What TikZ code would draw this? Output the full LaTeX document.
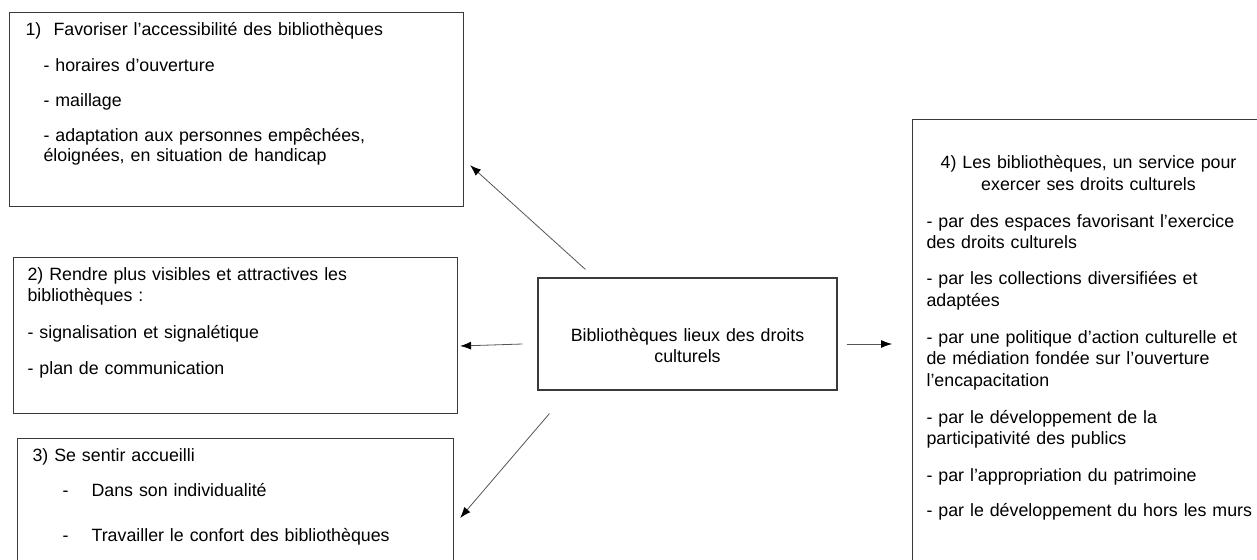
\documentclass[tikz,border=0pt]{standalone}
\usepackage{fontspec}
\setmainfont{Liberation Sans}
\usepackage{tikz}
\usetikzlibrary{arrows.meta,positioning}
\definecolor{FrameGray}{RGB}{58, 58, 58}
\definecolor{ArrowGray}{RGB}{85, 85, 85}

\newcommand{\padtop}[1]{\rule{0pt}{#1}}
\newcommand{\padbottom}[1]{\rule[-#1]{0pt}{#1}}

\begin{document}
\begin{tikzpicture}[x=1pt, y=-1pt,
    panel/.style={draw=FrameGray, line width=1.1pt, anchor=north west, align=left,
      inner xsep=14pt, inner ysep=10pt, font=\fontsize{17.8}{21}\selectfont},
    hubbox/.style={draw=FrameGray, line width=1.1pt, align=center, text width=270pt,
      minimum width=299pt, minimum height=112pt, inner sep=0pt,
      font=\fontsize{17.8}{21}\selectfont},
    link/.style={draw=ArrowGray, line width=0.8pt, -{Latex[length=11pt,width=8pt,black]}}]
    \useasboundingbox (0,0) rectangle (1257,559);

    % Central box
    \node[hubbox] (hub) at (687.5,334) {\padtop{37pt}Bibliothèques lieux des droits\\culturels};

    % 1) Accessibility
    \node[panel, text width=426pt] (b1) at (9,12) {%
      \hspace*{2pt}\makebox[28pt][l]{1)}Favoriser l’accessibilité des bibliothèques\\[15pt]
      \hspace*{20pt}- horaires d’ouverture\\[14pt]
      \hspace*{20pt}- maillage\\[14pt]
      \hspace*{20pt}- adaptation aux personnes empêchées,\\[-1pt]
      \hspace*{20pt}éloignées, en situation de handicap\padbottom{35pt}};

    % 2) Visibility
    \node[panel, text width=416pt] (b2) at (13,257) {%
      2) Rendre plus visibles et attractives les\\
      bibliothèques :\\[16pt]
      - signalisation et signalétique\\[15pt]
      - plan de communication\padbottom{29pt}};

    % 3) Welcome
    \node[panel, text width=408pt] (b3) at (17,438) {%
      \hspace*{1pt}3) Se sentir accueilli\\[14pt]
      \hspace*{31pt}\makebox[29pt][l]{-}Dans son individualité\\[24pt]
      \hspace*{31pt}\makebox[29pt][l]{-}Travailler le confort des bibliothèques\padbottom{40pt}};

    % 4) Cultural rights
    \node[panel, text width=340pt] (b4) at (912,119) {%
      \padtop{39pt}\makebox[324pt]{4) Les bibliothèques, un service pour}\\[1pt]
      \makebox[324pt]{exercer ses droits culturels}\\[16pt]
      - par des espaces favorisant l’exercice\\
      des droits culturels\\[15pt]
      - par les collections diversifiées et\\[1pt]
      adaptées\\[16pt]
      - par une politique d’action culturelle et\\
      de médiation fondée sur l’ouverture\\[1pt]
      l’encapacitation\\[16pt]
      - par le développement de la\\
      participativité des publics\\[16pt]
      - par l’appropriation du patrimoine\\[14pt]
      - par le développement du hors les murs\padbottom{60pt}};

    % Arrows
    \draw[link] ([xshift=48pt,yshift=8pt]hub.north west) -- ([xshift=6pt,yshift=42pt]b1.south east);
    \draw[link] ([xshift=-15pt,yshift=-10pt]hub.west) -- ([xshift=2pt,yshift=-10.5pt]b2.east);
    \draw[link] ([xshift=12pt,yshift=-23pt]hub.south west) -- ([xshift=6pt,yshift=-80pt]b3.north east);
    \draw[link] ([xshift=9pt,yshift=-10pt]hub.east) -- ([xshift=-20pt,yshift=-225pt]b4.north west);
\end{tikzpicture}
\end{document}
